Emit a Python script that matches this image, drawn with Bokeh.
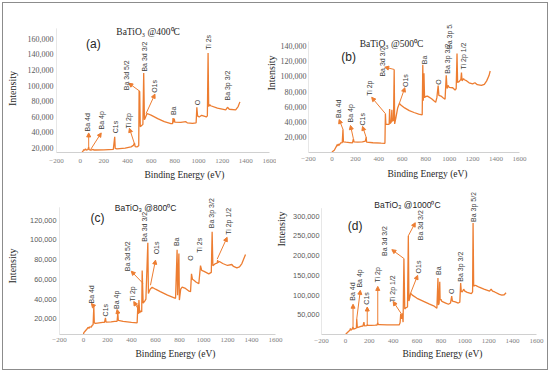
from math import pi
from bokeh.plotting import figure
from bokeh.models import (ColumnDataSource, LabelSet, Label, Arrow, NormalHead, Title,
                          FixedTicker, NumeralTickFormatter)
from bokeh.layouts import row, column
from bokeh.core.properties import value
from bokeh.embed import file_html
from bokeh.resources import INLINE

ORANGE = "#ED7D31"
x_ticks = [-200, 0, 200, 400, 600, 800, 1000, 1200, 1400, 1600]

# ---------------- panel (a) 400 C ----------------
a_be = [10, 25, 30, 35, 45, 50, 65, 72, 76, 90, 110, 115, 130, 200, 280, 292, 296, 310, 380, 430,
        450, 459, 465, 480, 495, 498, 503, 508, 530, 537, 543, 548, 565, 599, 655, 711, 767, 781,
        785, 790, 795, 800, 850, 893, 905, 950, 980, 986, 992, 1006, 1027, 1066, 1075, 1081, 1086,
        1095, 1103, 1160, 1230, 1245, 1260, 1314, 1335, 1350]
a_int = [12500, 16000, 17500, 16500, 18500, 17000, 17500, 21000, 17500, 16800, 17800, 17000, 17000,
         17300, 17800, 34000, 19000, 18500, 19500, 21000, 23000, 26000, 21500, 21000, 22500, 93000,
         92000, 47000, 50000, 116000, 56000, 57500, 64000, 62000, 57500, 53500, 51000, 51000, 58000,
         52500, 57500, 53000, 52500, 53500, 52000, 51400, 52000, 72000, 61000, 59600, 61700, 59600,
         61000, 142000, 73000, 75500, 74000, 70800, 68800, 72000, 69500, 68800, 73000, 79000]
a_lab_text = ["Ba 4d", "Ba 4p", "C1s", "Ti 2p", "Ba 3d 5/2", "Ba 3d 3/2", "O1s", "Ba", "O", "Ti 2s", "Ba 3p 3/2"]
a_lab_be = [61, 178, 296, 405, 389, 540, 624, 792, 994, 1086, 1246]
a_lab_int = [41000, 43500, 38600, 44800, 94000, 118000, 90600, 62000, 74500, 146000, 80700]
a_arr_be0 = [72, 88, 459, 501, 557]
a_arr_int0 = [21000, 17500, 25000, 93000, 64000]
a_arr_be1 = [72, 178, 416, 411, 632]
a_arr_int1 = [39000, 39000, 45000, 103000, 89000]
a_yticks = [20000, 40000, 60000, 80000, 100000, 120000, 140000, 160000]

# ---------------- panel (b) 500 C ----------------
b_be = [0, 20, 39, 45, 48, 55, 60, 75, 88, 94, 98, 120, 150, 175, 183, 188, 220, 260, 285, 292, 296,
        350, 420, 452, 456, 460, 488, 492, 496, 506, 511, 515, 525, 531, 535, 545, 560, 575, 590, 620,
        660, 700, 740, 770, 775, 779, 785, 790, 800, 815, 850, 872, 885, 895, 906, 912, 930, 950, 965,
        975, 982, 990, 1000, 1030, 1050, 1060, 1067, 1072, 1085, 1100, 1105, 1110, 1122, 1130, 1150,
        1170, 1200, 1220, 1240, 1275, 1300, 1320, 1340, 1350]
b_int = [500, 3000, 8300, 10500, 8500, 11000, 9500, 12500, 13000, 30500, 14000, 13500, 13000, 12500,
         18000, 14000, 13500, 14000, 15000, 20000, 13500, 12800, 12200, 12000, 51000, 37000, 37000,
         57000, 38000, 40000, 56000, 41000, 42000, 109000, 37500, 45000, 58000, 64500, 62000, 58500,
         55000, 52500, 50500, 49500, 115000, 68000, 104000, 72000, 73500, 74000, 70500, 67500, 66000,
         72000, 88000, 75000, 74000, 71500, 70000, 101500, 84000, 88000, 85500, 85000, 82000, 84000,
         130000, 92000, 93000, 96000, 105000, 94000, 97000, 95500, 94000, 91500, 90000, 91500, 89000,
         88000, 89500, 94000, 101000, 107000]
b_lab_text = ["Ba 4d", "Ba 4p", "C1s", "Ti 2p", "Ba 3d 3/2", "O1s", "Ba", "O", "Ba 3p 3/2", "Ba 3p 5/2", "Ti 2p 1/2"]
b_lab_be = [53, 156, 261, 322, 428, 628, 789, 906, 983, 1000, 1122]
b_lab_int = [45300, 39400, 35500, 74400, 99600, 86000, 116000, 89000, 103500, 136000, 109000]
b_arr_be0 = [94, 183, 294, 456, 531, 575]
b_arr_int0 = [30500, 18000, 19000, 51000, 109000, 64500]
b_arr_be1 = [61, 158, 261, 339, 450, 622]
b_arr_int1 = [43300, 35500, 34300, 72400, 112000, 85000]
b_yticks = [20000, 40000, 60000, 80000, 100000, 120000, 140000]

# ---------------- panel (c) 800 C ----------------
c_be = [0, 3, 20, 31, 38, 45, 55, 65, 72, 80, 86, 90, 100, 130, 160, 175, 183, 188, 230, 260, 280,
        286, 290, 330, 400, 447, 453, 457, 462, 468, 478, 485, 489, 497, 510, 520, 536, 541, 555, 572,
        600, 640, 700, 767, 780, 784, 795, 799, 810, 822, 850, 880, 892, 900, 908, 920, 940, 961, 975,
        985, 1005, 1044, 1065, 1072, 1078, 1090, 1100, 1114, 1118, 1122, 1133, 1160, 1200, 1236, 1250,
        1278, 1300, 1320, 1350]
c_int = [4500, 6000, 8500, 10000, 11500, 10500, 12000, 11500, 13400, 14000, 32600, 16000, 15500, 16000,
         16500, 16500, 21000, 16700, 17000, 17500, 17500, 26000, 18500, 17500, 16500, 16000, 34000,
         25000, 39000, 26000, 28000, 27000, 68800, 35800, 38000, 40000, 97000, 45700, 50000, 52000,
         50000, 47500, 44000, 40800, 90000, 44000, 86000, 39000, 50000, 52000, 50800, 48000, 47400,
         65500, 60000, 59000, 57000, 55700, 73800, 69000, 68000, 65500, 67000, 108000, 73800, 75000,
         76000, 76400, 79500, 77000, 78000, 76000, 74000, 75000, 73000, 71600, 72500, 76000, 85000]
c_lab_text = ["Ba 4d", "C1s", "Ba 4p", "Ti 2p", "Ba 3d 5/2", "Ba 3d 3/2", "O1s", "Ba", "O", "Ti 2s", "Ba 3p 3/2", "Ti 2p 1/2"]
c_lab_be = [64, 183, 275, 406, 364, 510, 608, 775, 892, 967, 1064, 1206]
c_lab_int = [35500, 22500, 30000, 37500, 68200, 98000, 85300, 93600, 78700, 87000, 111800, 105000]
c_arr_be0 = [86, 286, 456, 495, 558, 1114]
c_arr_int0 = [32600, 26000, 29900, 56000, 54000, 80400]
c_arr_be1 = [66, 280, 419, 398, 600, 1197]
c_arr_int1 = [35500, 29500, 37500, 68200, 79400, 102500]
c_yticks = [20000, 40000, 60000, 80000, 100000, 120000]

# ---------------- panel (d) 1000 C ----------------
d_be = [0, 15, 37, 42, 46, 55, 64, 68, 85, 92, 95, 100, 130, 147, 155, 160, 180, 183, 188, 216, 250,
        265, 271, 276, 285, 350, 450, 458, 463, 470, 477, 483, 490, 497, 505, 520, 527, 532, 540, 546,
        560, 600, 650, 700, 739, 766, 775, 779, 785, 790, 793, 800, 808, 840, 863, 880, 890, 896, 920,
        945, 958, 965, 970, 978, 990, 1000, 1020, 1055, 1065, 1069, 1074, 1085, 1094, 1120, 1160, 1207,
        1220, 1232, 1250, 1290, 1310, 1330, 1345]
d_int = [0, 5000, 11000, 16000, 11500, 13000, 20000, 14000, 16000, 17000, 40000, 18000, 21000, 22000,
         31600, 22500, 23000, 26000, 23500, 23500, 24000, 24500, 30000, 25500, 25500, 25000, 24700,
         30000, 52000, 40000, 54000, 31700, 192600, 65000, 68000, 70000, 250000, 85000, 95000, 105000,
         100000, 92000, 85000, 78000, 73000, 67000, 143000, 75000, 80000, 134000, 88000, 89500, 84000,
         80000, 77000, 80000, 97500, 85000, 83000, 80000, 82000, 130700, 110000, 108000, 115000, 110000,
         107000, 104000, 108000, 282000, 122500, 125000, 124000, 120000, 115000, 110000, 115000, 110000,
         108000, 102000, 100000, 101000, 106000]
d_lab_text = ["Ba 4d", "Ba 4p", "C1s", "Ti 2p", "Ti 2p 1/2", "Ba 3d 3/2", "Ba 3d 3/2", "O1s", "Ba", "O", "Ba 3p 3/2", "Ba 3p 5/2"]
d_lab_be = [62, 120, 180, 265, 392, 330, 632, 615, 780, 888, 960, 1075]
d_lab_int = [86000, 119000, 76000, 132000, 82000, 199000, 239000, 155000, 151000, 103000, 134000, 285000]
d_arr_be0 = [64, 95, 183, 271, 470, 490, 527, 546]
d_arr_int0 = [20000, 40000, 26000, 30000, 52000, 192600, 250000, 105000]
d_arr_be1 = [64, 125, 183, 271, 400, 389, 585, 605]
d_arr_int1 = [77000, 112000, 70000, 122000, 84000, 215000, 283000, 150000]
d_yticks = [50000, 100000, 150000, 200000, 250000, 300000]


def make_panel(cfg, be, inten, lab_text, lab_be, lab_int, a0x, a0y, a1x, a1y, yticks, title, letter):
    p = figure(width=cfg["w"], height=cfg["h"], x_range=(-200, 1600), y_range=cfg["yr"],
               output_backend="svg", toolbar_location=None, title=None,
               min_border_left=cfg["bl"], min_border_right=cfg["br"],
               min_border_top=cfg["bt"], min_border_bottom=cfg["bb"])
    if "margin" in cfg:
        p.margin = cfg["margin"]
    p.background_fill_color = "white"
    p.border_fill_color = cfg.get("fill", "white")
    p.outline_line_color = None
    p.xgrid.visible = False
    p.ygrid.visible = False

    for ax in (p.xaxis, p.yaxis):
        ax.major_tick_line_color = None
        ax.minor_tick_line_color = None
        ax.major_tick_out = 0
        ax.major_tick_in = 0
        ax.minor_tick_out = 0
        ax.minor_tick_in = 0
        ax.axis_label_standoff = 0

    p.xaxis.ticker = FixedTicker(ticks=x_ticks)
    p.xaxis.axis_line_color = "#d0d0d0"
    p.xaxis.major_label_text_font = "Liberation Serif"
    p.xaxis.major_label_text_font_size = "7px"
    p.xaxis.major_label_text_color = "#808080"
    p.xaxis.major_label_standoff = cfg["xstand"]

    p.yaxis.ticker = FixedTicker(ticks=yticks)
    p.yaxis.formatter = NumeralTickFormatter(format="0,0")
    p.yaxis.axis_line_color = None
    p.yaxis.major_label_text_font = cfg["yfont"]
    p.yaxis.major_label_text_font_size = cfg["ysize"]
    p.yaxis.major_label_text_color = "#595959"
    p.yaxis.major_label_standoff = cfg["ystand"]

    # visible part of the vertical axis line (Excel plot area height)
    p.segment(x0=[-200], y0=[cfg["yr"][0]], x1=[-200], y1=[cfg["axis_top"]],
              line_color="#d0d0d0", line_width=1)

    p.line(be, inten, line_color=ORANGE, line_width=1.3)

    arr_src = ColumnDataSource(dict(x0=a0x, y0=a0y, x1=a1x, y1=a1y))
    p.add_layout(Arrow(end=NormalHead(size=4, fill_color=ORANGE, line_color=ORANGE),
                       x_start="x0", y_start="y0", x_end="x1", y_end="y1",
                       line_color=ORANGE, line_width=1, source=arr_src))

    lab_src = ColumnDataSource(dict(x=lab_be, y=lab_int, t=lab_text))
    p.add_layout(LabelSet(x="x", y="y", text="t", source=lab_src, angle=pi / 2,
                          text_align="left", text_baseline="middle",
                          text_font=value("Liberation Sans"), text_font_size="7px",
                          text_color="#404040"))

    p.add_layout(Label(x=cfg["title_xy"][0], y=cfg["title_xy"][1], text=title,
                       text_font=cfg["tfont"], text_font_size=cfg["tsize"], text_color="#262626",
                       text_align="center", text_baseline="middle"))
    p.add_layout(Label(x=cfg["letter_xy"][0], y=cfg["letter_xy"][1], text=letter,
                       text_font="Liberation Sans", text_font_size="12px", text_color="#262626",
                       text_align="center", text_baseline="middle"))

    p.add_layout(Title(text="Binding Energy (eV)", align="left", offset=cfg["xl_off"],
                       standoff=cfg["xl_st"], text_font="Liberation Serif",
                       text_font_size="9.5px", text_font_style="normal",
                       text_color="#262626"), "below")
    if cfg.get("yl_axis"):
        p.yaxis.axis_label = "Intensity"
        p.yaxis.axis_label_text_font = "Liberation Serif"
        p.yaxis.axis_label_text_font_size = "10px"
        p.yaxis.axis_label_text_font_style = "normal"
        p.yaxis.axis_label_text_color = "#262626"
        p.yaxis.axis_label_standoff = cfg["yl_st"]
    else:
        p.add_layout(Title(text="Intensity", align="left", offset=cfg["yl_off"],
                           standoff=cfg["yl_st"], text_font="Liberation Serif",
                           text_font_size="10px", text_font_style="normal",
                           text_color="#262626"), "left")
    return p


# page geometry: root box spans x 3..547, y 3..369 (outline drawn just outside)
cfg_a = dict(w=273, h=191, bl=52, br=7, bt=21, bb=37, yr=(13800, 178600), axis_top=173600,
             yfont="Liberation Serif", ysize="8px", xstand=6, ystand=3,
             title_xy=(574, 168700), tfont="Liberation Serif", tsize="9.5px",
             letter_xy=(112, 153800), xl_off=88, xl_st=5, yl_axis=True, yl_st=7)
cfg_b = dict(w=285, h=191, bl=41, br=28, bt=5, bb=42, yr=(0, 168000), axis_top=145800,
             yfont="Liberation Serif", ysize="8px", xstand=4, ystand=2,
             title_xy=(508, 142000), tfont="Liberation Serif", tsize="9.5px",
             letter_xy=(142, 124900), xl_off=79, xl_st=7, yl_off=62, yl_st=2,
             margin=(0, 0, 0, -14), fill=None)
cfg_c = dict(w=281, h=175, bl=56, br=9, bt=3, bb=32, yr=(4160, 142800), axis_top=132900,
             yfont="Liberation Sans", ysize="7.3px", xstand=3, ystand=3,
             title_xy=(517, 131900), tfont="Liberation Sans", tsize="8.5px",
             letter_xy=(117, 122000), xl_off=76, xl_st=5, yl_axis=True, yl_st=9)
cfg_d = dict(w=278, h=180, bl=49, br=11, bt=0, bb=35, yr=(500, 359400), axis_top=319800,
             yfont="Liberation Sans", ysize="7.3px", xstand=4, ystand=2,
             title_xy=(519, 327000), tfont="Liberation Sans", tsize="8.5px",
             letter_xy=(81, 275000), xl_off=81, xl_st=2, yl_off=88, yl_st=8,
             margin=(-5, 0, 0, -15), fill=None)

pa = make_panel(cfg_a, a_be, a_int, a_lab_text, a_lab_be, a_lab_int,
                a_arr_be0, a_arr_int0, a_arr_be1, a_arr_int1, a_yticks, "BaTiO\u2083 @400\u2070C", "(a)")
pb = make_panel(cfg_b, b_be, b_int, b_lab_text, b_lab_be, b_lab_int,
                b_arr_be0, b_arr_int0, b_arr_be1, b_arr_int1, b_yticks, "BaTiO\u2083 @500\u2070C", "(b)")
pc = make_panel(cfg_c, c_be, c_int, c_lab_text, c_lab_be, c_lab_int,
                c_arr_be0, c_arr_int0, c_arr_be1, c_arr_int1, c_yticks, "BaTiO\u2083 @800\u2070C", "(c)")
pd = make_panel(cfg_d, d_be, d_int, d_lab_text, d_lab_be, d_lab_int,
                d_arr_be0, d_arr_int0, d_arr_be1, d_arr_int1, d_yticks, "BaTiO\u2083 @1000\u2070C", "(d)")

layout = column(row(pa, pb), row(pc, pd), margin=(3, 3, 3, 3),
                styles={"outline": "1px solid #8c8c8c", "background-color": "white"})

open("out.html", "w").write(file_html(layout, INLINE))
